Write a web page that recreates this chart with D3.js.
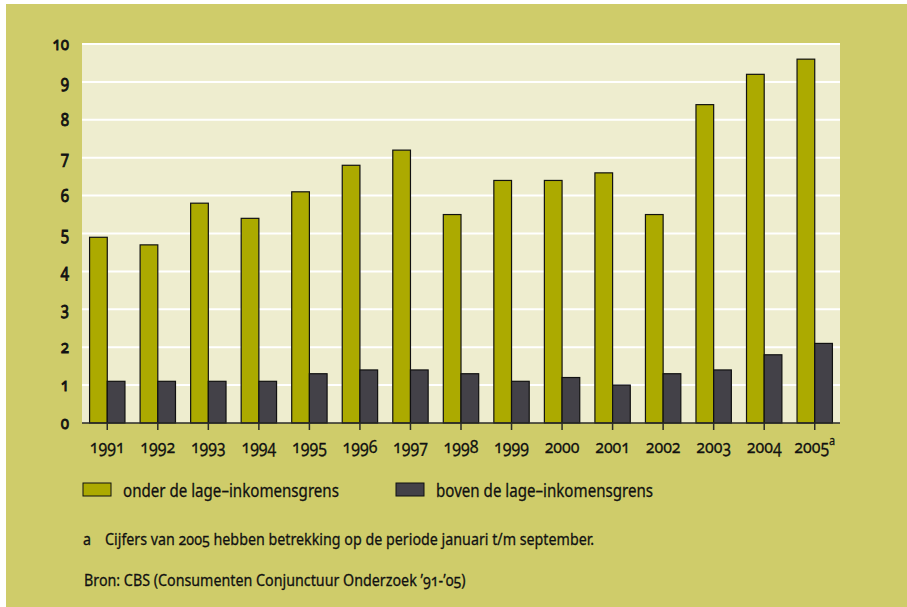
<!DOCTYPE html>
<html>
<head>
<meta charset="utf-8">
<script src="https://cdn.jsdelivr.net/npm/d3@7"></script>
<style>
  body { margin: 0; background: #fff; }
  svg text { font-family: "Noto Sans", Lato, sans-serif; font-variant-numeric: oldstyle-nums; font-feature-settings: "onum" 1; fill: #111; stroke: #111; stroke-width: 0.3; }
</style>
</head>
<body>
<div id="chart"></div>
<script>
// years on the x axis
const years = ["1991", "1992", "1993", "1994", "1995", "1996", "1997", "1998",
  "1999", "2000", "2001", "2002", "2003", "2004", "2005"];
// onder de lage-inkomensgrens
const onder = [4.9, 4.7, 5.8, 5.4, 6.1, 6.8, 7.2, 5.5, 6.4, 6.4, 6.6, 5.5, 8.4, 9.2, 9.6];
// boven de lage-inkomensgrens
const boven = [1.1, 1.1, 1.1, 1.1, 1.3, 1.4, 1.4, 1.3, 1.1, 1.2, 1.0, 1.3, 1.4, 1.8, 2.1];
const yTicks = [0, 1, 2, 3, 4, 5, 6, 7, 8, 9, 10];
const seriesNames = ["onder de lage–inkomensgrens", "boven de lage–inkomensgrens"];
const colors = ["#acaa00", "#434148"];

const W = 907, H = 607;
const plotLeft = 82, plotRight = 840, plotTop = 44, plotBottom = 423;
const squeeze = 0.84; // the original type is a condensed face

const svg = d3.select("#chart").append("svg")
  .attr("width", W)
  .attr("height", H);

// place text at (tx, ty), narrowed horizontally
function label(sel, tx, ty) {
  return sel.attr("transform", (d, i) => {
    const a = typeof tx === "function" ? tx(d, i) : tx;
    const b = typeof ty === "function" ? ty(d, i) : ty;
    return `translate(${a},${b}) scale(${squeeze},1)`;
  });
}

// outer background with small white margin
svg.append("rect")
  .attr("x", 6).attr("y", 4)
  .attr("width", W - 6).attr("height", H - 4)
  .attr("fill", "#cfcc6a");

const x = d3.scaleBand().domain(years).range([plotLeft, plotRight])
  .paddingInner(0.3).paddingOuter(0.15);
const x1 = d3.scaleBand().domain([0, 1]).range([0, x.bandwidth()]);
const y = d3.scaleLinear().domain([0, 10]).range([plotBottom, plotTop]);

// plot background
svg.append("rect")
  .attr("x", plotLeft).attr("y", plotTop)
  .attr("width", plotRight - plotLeft).attr("height", plotBottom - plotTop)
  .attr("fill", "#eeedcf");

// gridlines
svg.append("g")
  .selectAll("line")
  .data(yTicks.filter(d => d > 0))
  .enter().append("line")
  .attr("x1", plotLeft).attr("x2", plotRight)
  .attr("y1", d => y(d)).attr("y2", d => y(d))
  .attr("stroke", "#fff")
  .attr("stroke-width", 2);

// y labels (regular weight with a stroke keeps the old-style figures)
label(svg.append("g")
  .selectAll("text")
  .data(yTicks)
  .enter().append("text"), 69, d => y(d) + 6)
  .attr("text-anchor", "end")
  .attr("font-size", 18)
  .style("stroke-width", 0.9)
  .text(d => d);

// bars
const groups = svg.append("g")
  .selectAll("g")
  .data(years)
  .enter().append("g")
  .attr("transform", d => `translate(${x(d)},0)`);

groups.append("rect")
  .attr("x", x1(0))
  .attr("y", (d, i) => y(onder[i]))
  .attr("width", x1.bandwidth())
  .attr("height", (d, i) => y(0) - y(onder[i]))
  .attr("fill", colors[0])
  .attr("stroke", "#111")
  .attr("stroke-width", 1.2);

groups.append("rect")
  .attr("x", x1(1))
  .attr("y", (d, i) => y(boven[i]))
  .attr("width", x1.bandwidth())
  .attr("height", (d, i) => y(0) - y(boven[i]))
  .attr("fill", colors[1])
  .attr("stroke", "#111")
  .attr("stroke-width", 1.2);

// x axis line and ticks
svg.append("line")
  .attr("x1", plotLeft).attr("x2", plotRight)
  .attr("y1", plotBottom).attr("y2", plotBottom)
  .attr("stroke", "#2a2a2a")
  .attr("stroke-width", 1.5);

svg.append("g")
  .selectAll("line")
  .data(years)
  .enter().append("line")
  .attr("x1", d => x(d) + x.bandwidth() / 2)
  .attr("x2", d => x(d) + x.bandwidth() / 2)
  .attr("y1", plotBottom).attr("y2", plotBottom + 7)
  .attr("stroke", "#2a2a2a")
  .attr("stroke-width", 1.5);

// x labels
const xl = label(svg.append("g")
  .selectAll("text")
  .data(years)
  .enter().append("text"), d => x(d) + x.bandwidth() / 2, 453)
  .attr("text-anchor", "middle")
  .attr("font-size", 19);
xl.append("tspan").text(d => d);
xl.filter(d => d === "2005").append("tspan")
  .attr("dy", -8)
  .attr("font-size", 13)
  .text("a");

// legend
const legendX = [83, 396];
const legend = svg.append("g")
  .selectAll("g")
  .data(seriesNames)
  .enter().append("g")
  .attr("transform", (d, i) => `translate(${legendX[i]},483)`);
legend.append("rect")
  .attr("width", 28).attr("height", 13)
  .attr("fill", (d, i) => colors[i])
  .attr("stroke", "#111");
label(legend.append("text"), 40, 14)
  .attr("font-size", 18)
  .text(d => d);

// footnote and source
label(svg.append("text"), 83, 545)
  .attr("font-size", 17)
  .text("a");
label(svg.append("text"), 105, 545)
  .attr("font-size", 17)
  .text("Cijfers van 2005 hebben betrekking op de periode januari t/m september.");
label(svg.append("text"), 84, 586)
  .attr("font-size", 17)
  .text("Bron: CBS (Consumenten Conjunctuur Onderzoek ’91-’05)");
</script>
</body>
</html>
